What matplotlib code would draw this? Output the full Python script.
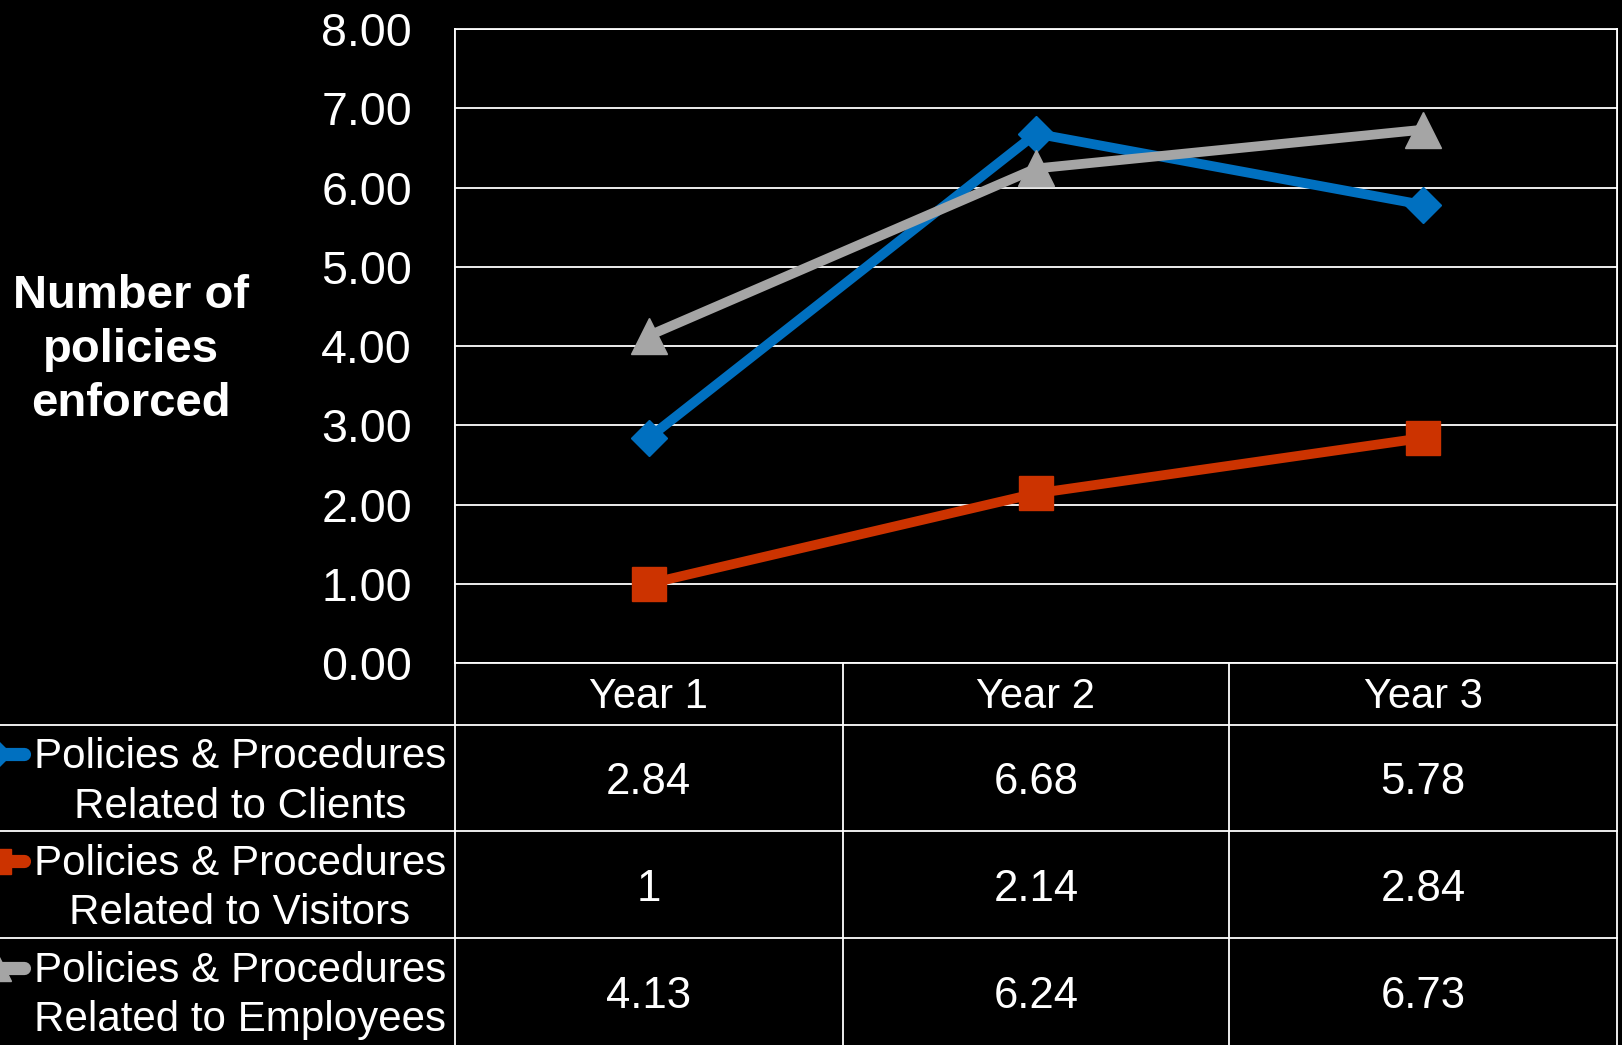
import matplotlib
matplotlib.use("Agg")
import matplotlib.pyplot as plt
from matplotlib.transforms import blended_transform_factory
from matplotlib.lines import Line2D

plt.rcParams["font.family"] = ["Liberation Sans", "DejaVu Sans"]

# Data
years = ["Year 1", "Year 2", "Year 3"]
series_names = [
    "Policies & Procedures\nRelated to Clients",
    "Policies & Procedures\nRelated to Visitors",
    "Policies & Procedures\nRelated to Employees",
]
clients = [2.84, 6.68, 5.78]
visitors = [1, 2.14, 2.84]
employees = [4.13, 6.24, 6.73]
y_ticks = [0, 1, 2, 3, 4, 5, 6, 7, 8]

series_values = [clients, visitors, employees]
colors = ["#0070C0", "#CC3300", "#A5A5A5"]
markers = ["D", "s", "^"]
marker_sizes = [18, 24, 26]
key_marker_sizes = [13, 18, 19]

W, H = 1622, 1045
FS = 31.5
fig = plt.figure(figsize=(W / 100, H / 100), dpi=100, facecolor="black")

# Main plot area (pixel layout)
px_left, px_right, px_top, px_bottom = 455, 1617, 29, 663
ax = fig.add_axes([px_left / W, 1 - px_bottom / H,
                   (px_right - px_left) / W, (px_bottom - px_top) / H])
ax.set_facecolor("black")
x = list(range(len(years)))
for vals, c, m, ms in zip(series_values, colors, markers, marker_sizes):
    ax.plot(x, vals, color=c, lw=7, marker=m, markersize=ms,
            markerfacecolor=c, markeredgecolor=c, markeredgewidth=1,
            solid_joinstyle="miter", zorder=3, clip_on=False)
ax.set_xlim(-0.5, 2.5)
ax.set_ylim(0, 8)
ax.set_yticks(y_ticks)
ax.set_yticklabels([f"{v:.2f}" for v in y_ticks], color="white", fontsize=33.5)
ax.tick_params(axis="y", length=0, pad=31)
ax.set_xticks([])
ax.grid(axis="y", color="white", lw=1.3, zorder=1)
for sp in ax.spines.values():
    sp.set_color("white")
    sp.set_linewidth(1.3)

# Overlay in pixel coordinates for the data table and labels
ov = fig.add_axes([0, 0, 1, 1], zorder=-1)
ov.set_xlim(0, W)
ov.set_ylim(H, 0)
ov.axis("off")
ov.patch.set_alpha(0)
tr = blended_transform_factory(ax.transData, ov.transData)

header_top, header_bottom = 663, 725
row_edges = [725, 831, 938, 1045]
col_edges = [455, 843, 1229, 1617]
lc = "white"
lw = 1.3

# table grid
ov.plot([px_left, px_left], [px_top, H], color=lc, lw=lw)
ov.plot([px_right, px_right], [px_top, H], color=lc, lw=lw)
for xe in col_edges[1:-1]:
    ov.plot([xe, xe], [header_top, H], color=lc, lw=lw)
for ye in row_edges[:-1]:
    ov.plot([0, px_right], [ye, ye], color=lc, lw=lw)

# header row
for i, yr in enumerate(years):
    ov.text(i, (header_top + header_bottom) / 2 + 3, yr, transform=tr,
            color="white", fontsize=30, ha="center", va="center")

# data rows
for r, (name, vals, c, m, kms) in enumerate(
        zip(series_names, series_values, colors, markers, key_marker_sizes)):
    yc = (row_edges[r] + row_edges[r + 1]) / 2
    ov.text(240, yc + 4, name, color="white", fontsize=30.3, ha="center",
            va="center", multialignment="center", linespacing=1.31)
    ky = yc - 24
    ov.add_line(Line2D([-2, 24], [ky, ky], color=c, lw=9.5,
                       solid_capstyle="round", clip_on=False))
    ov.add_line(Line2D([-2], [ky], color=c, marker=m, markersize=kms,
                       markeredgecolor=c, lw=0, clip_on=False))
    for i, v in enumerate(vals):
        ov.text(i, yc + 5, f"{v:g}", transform=tr, color="white", fontsize=FS,
                ha="center", va="center")

# y-axis title
fig.text(131 / W, 1 - 350 / H, "Number of\npolicies\nenforced", color="white",
         fontsize=34, fontweight="bold", ha="center", va="center",
         multialignment="center", linespacing=1.3)

fig.savefig("out.png", dpi=100, facecolor="black")
